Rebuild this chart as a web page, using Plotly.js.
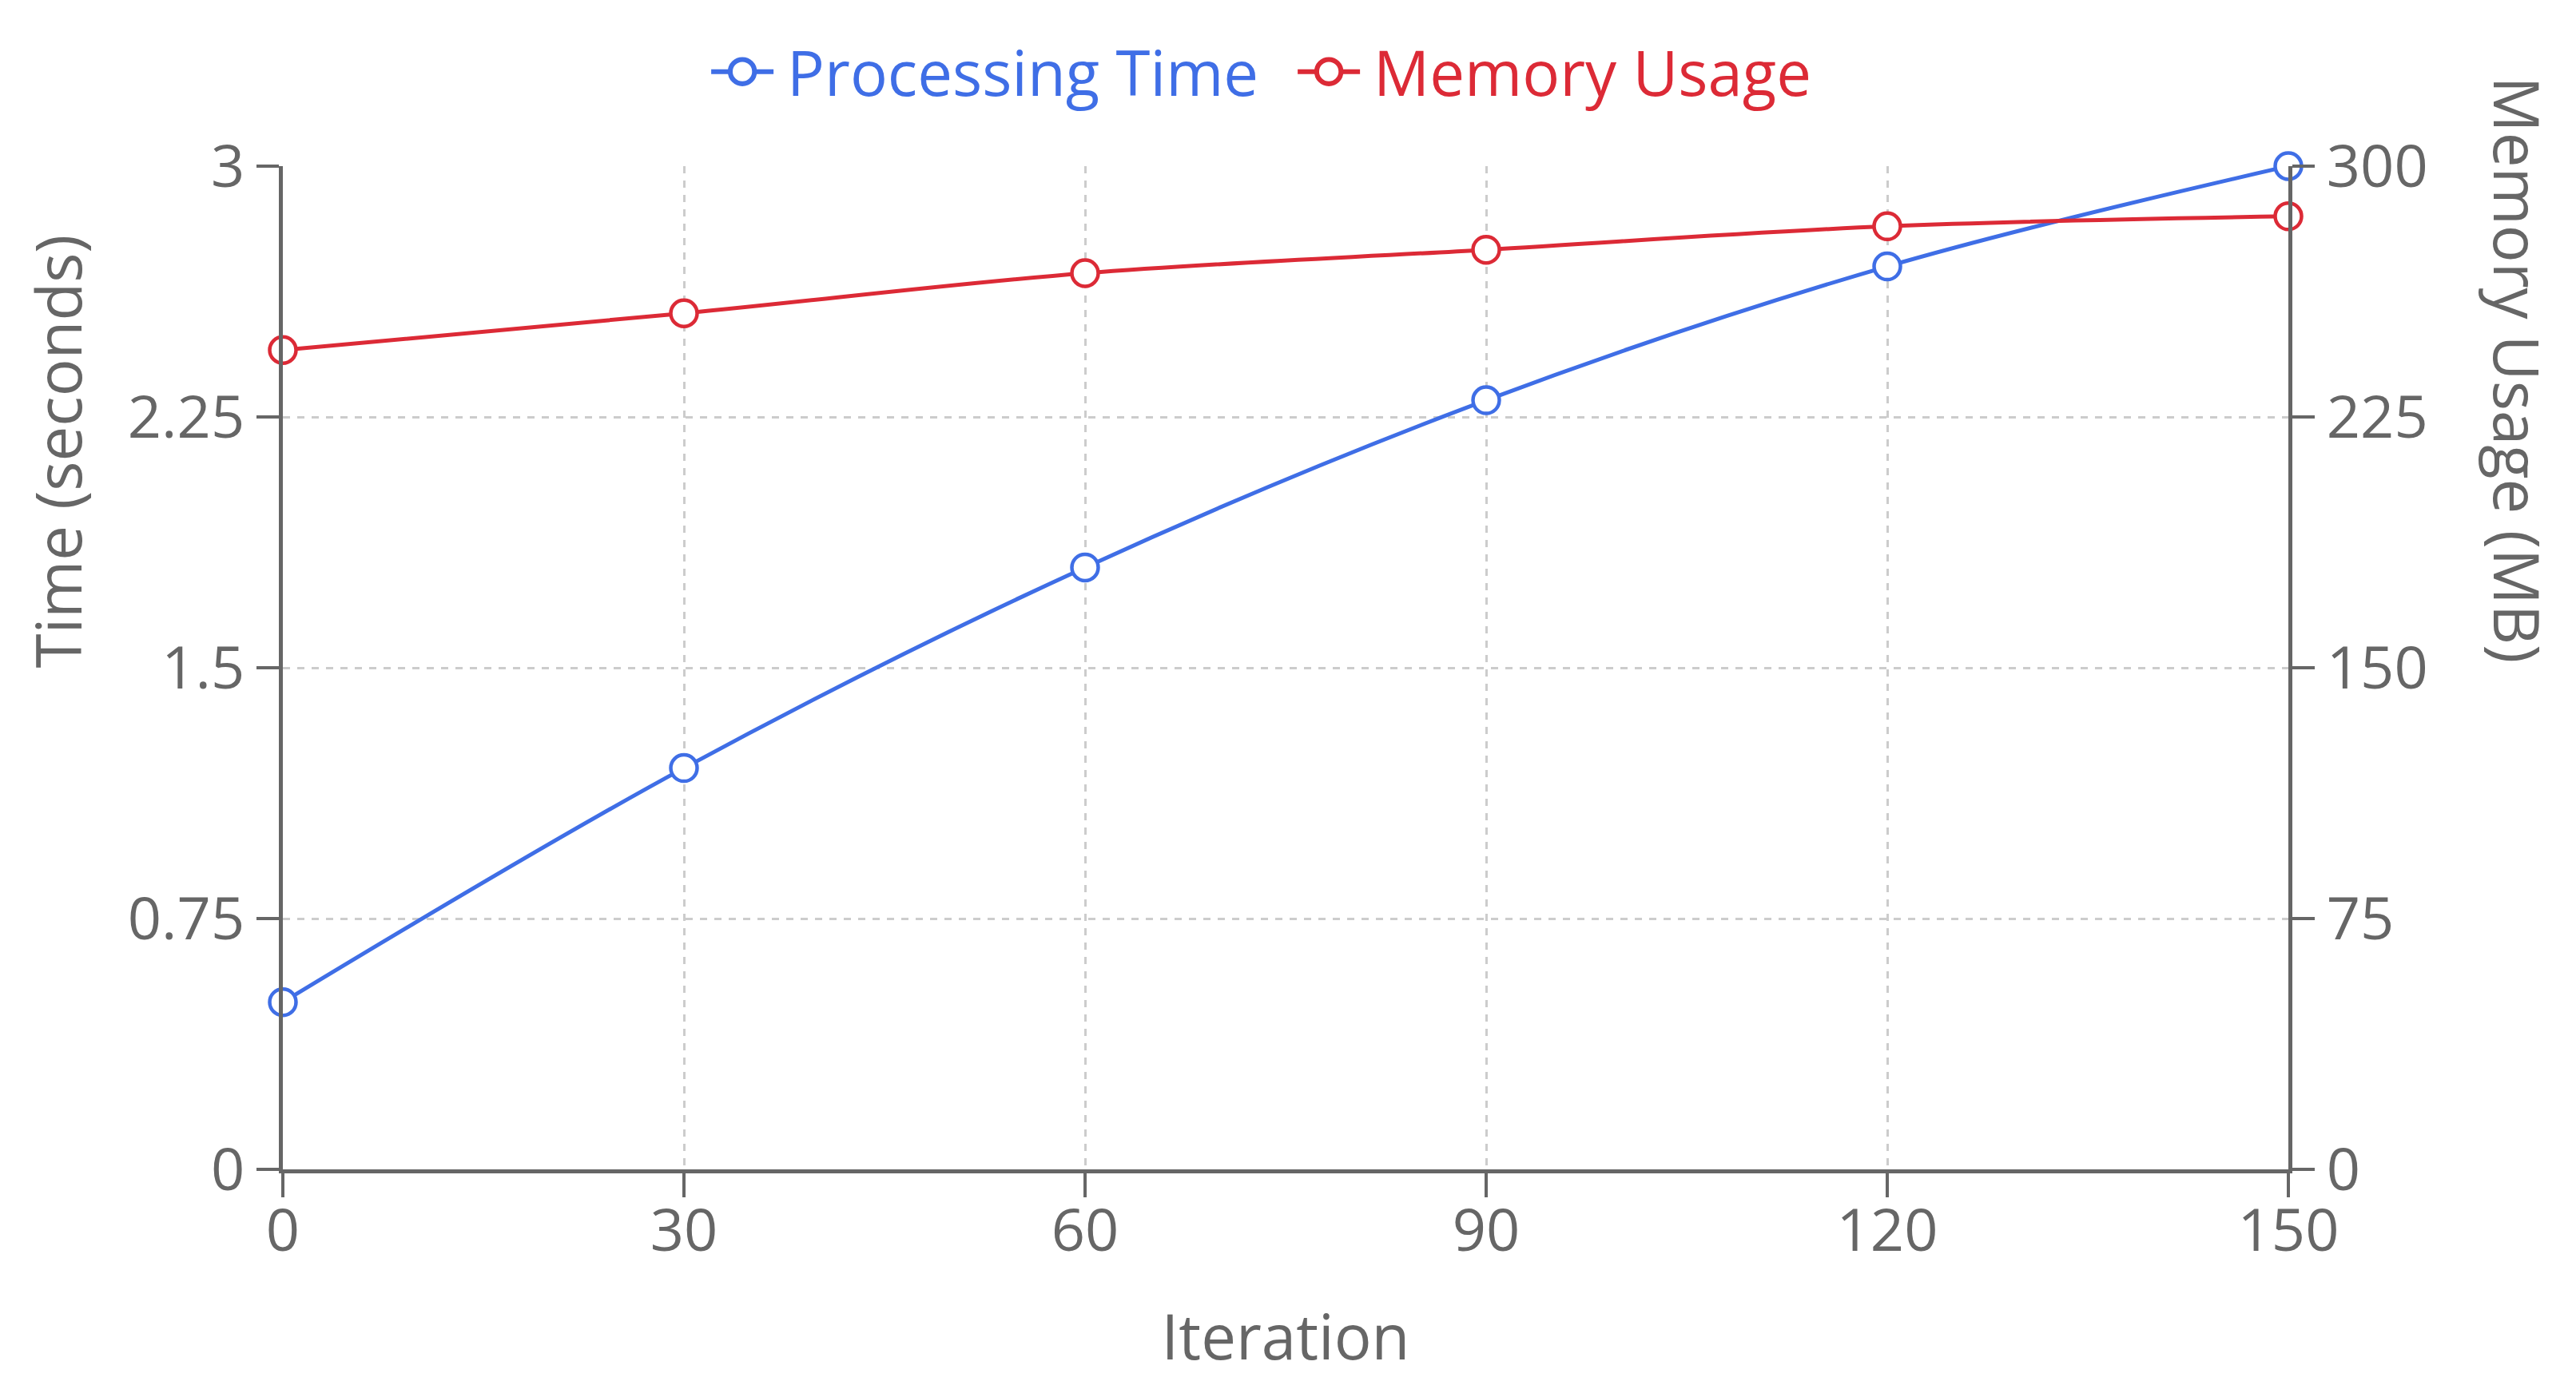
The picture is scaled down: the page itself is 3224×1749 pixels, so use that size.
<!DOCTYPE html>
<html>
<head>
<meta charset="utf-8">
<script src="https://cdn.plot.ly/plotly-3.0.1.min.js"></script>
<style>
html,body{margin:0;padding:0;background:#fff;}
#chart{width:3224px;height:1749px;}
</style>
</head>
<body>
<div id="chart"></div>
<script>
const iterations = [0, 30, 60, 90, 120, 150];
const processingTime = [0.5, 1.2, 1.8, 2.3, 2.7, 3.0];
const memoryUsage = [245, 256, 268, 275, 282, 285];
const timeTicks = [0, 0.75, 1.5, 2.25, 3];
const timeTickLabels = ['0', '0.75', '1.5', '2.25', '3'];
const memTicks = [0, 75, 150, 225, 300];
const memTickLabels = ['0', '75', '150', '225', '300'];
const iterTicks = [0, 30, 60, 90, 120, 150];
const seriesNames = ['Processing Time', 'Memory Usage'];

const BLUE = '#3f6ee6';
const RED = '#dc2a36';
const GRAY = '#666666';
const FONT = 'Open Sans, sans-serif';

const traces = [
  {
    x: iterations, y: processingTime,
    name: '<span style="color:' + BLUE + '">' + seriesNames[0] + '</span>',
    type: 'scatter', mode: 'lines+markers', yaxis: 'y',
    line: {color: BLUE, width: 5, shape: 'spline', smoothing: 1},
    marker: {symbol: 'circle', size: 33, color: '#ffffff', line: {color: BLUE, width: 4.5}},
    cliponaxis: false
  },
  {
    x: iterations, y: memoryUsage,
    name: '<span style="color:' + RED + '">' + seriesNames[1] + '</span>',
    type: 'scatter', mode: 'lines+markers', yaxis: 'y2',
    line: {color: RED, width: 5, shape: 'spline', smoothing: 1},
    marker: {symbol: 'circle', size: 33, color: '#ffffff', line: {color: RED, width: 4.5}},
    cliponaxis: false
  }
];

const layout = {
  width: 3224, height: 1749,
  paper_bgcolor: '#ffffff', plot_bgcolor: '#ffffff',
  font: {family: FONT, size: 74, color: GRAY},
  margin: {l: 354, r: 360, t: 208, b: 285, pad: 0},
  showlegend: true,
  legend: {
    orientation: 'h', x: 0.2116, xanchor: 'left', y: 1.094, yanchor: 'middle',
    font: {family: FONT, size: 78},
    itemwidth: 78, entrywidth: 641, entrywidthmode: 'pixels', traceorder: 'normal'
  },
  xaxis: {
    range: [0, 150], tickvals: iterTicks, ticktext: iterTicks.map(String),
    showline: true, linecolor: GRAY, linewidth: 5,
    ticks: 'outside', ticklen: 30, tickwidth: 4, tickcolor: GRAY,
    ticklabelstandoff: -22,
    showgrid: true, gridcolor: '#cccccc', gridwidth: 3, griddash: 'dash',
    zeroline: false,
    tickfont: {family: FONT, size: 74, color: GRAY},
    title: {text: 'Iteration', font: {family: FONT, size: 78, color: GRAY}, standoff: 62}
  },
  yaxis: {
    range: [0, 3], tickvals: timeTicks, ticktext: timeTickLabels,
    showline: true, linecolor: GRAY, linewidth: 5,
    ticks: 'outside', ticklen: 28, tickwidth: 4, tickcolor: GRAY,
    showgrid: true, gridcolor: '#cccccc', gridwidth: 3, griddash: 'dash',
    zeroline: false,
    tickfont: {family: FONT, size: 74, color: GRAY}
  },
  yaxis2: {
    range: [0, 300], tickvals: memTicks, ticktext: memTickLabels,
    overlaying: 'y', side: 'right',
    showline: true, linecolor: GRAY, linewidth: 5,
    ticks: 'outside', ticklen: 28, tickwidth: 4, tickcolor: GRAY,
    showgrid: false, zeroline: false,
    tickfont: {family: FONT, size: 74, color: GRAY}
  },
  annotations: [
    {text: 'Time (seconds)', xref: 'paper', yref: 'paper', x: -0.1124, y: 0.716,
     xanchor: 'center', yanchor: 'middle', textangle: -90, showarrow: false,
     font: {family: FONT, size: 78, color: GRAY}},
    {text: 'Memory Usage (MB)', xref: 'paper', yref: 'paper', x: 1.1145, y: 0.797,
     xanchor: 'center', yanchor: 'middle', textangle: 90, showarrow: false,
     font: {family: FONT, size: 78, color: GRAY}}
  ]
};

Plotly.newPlot('chart', traces, layout, {displayModeBar: false, staticPlot: true}).then(function () {
  document.querySelectorAll('.legend path.scatterpts').forEach(function (p) {
    var t = p.getAttribute('transform') || '';
    p.setAttribute('transform', t + ' scale(1.9)');
    p.style.strokeWidth = '3.2px';
  });
  document.querySelectorAll('.legend path.js-line').forEach(function (p) {
    p.style.strokeWidth = '6px';
  });
  document.querySelectorAll('.legend text.legendtext').forEach(function (t) {
    var x = parseFloat(t.getAttribute('x') || '0');
    t.setAttribute('x', x + 12);
  });
});
</script>
</body>
</html>
